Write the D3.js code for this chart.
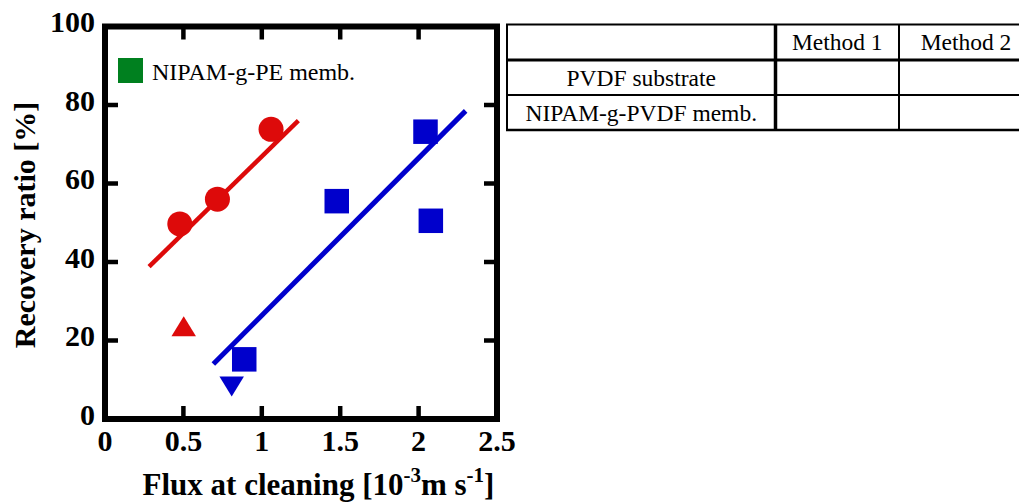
<!DOCTYPE html>
<html>
<head>
<meta charset="utf-8">
<script src="https://cdn.jsdelivr.net/npm/d3@7"></script>
<style>
  html, body { margin: 0; padding: 0; background: #fff; }
  svg { display: block; }
</style>
</head>
<body>
<svg id="chart" width="1019" height="504"></svg>
<script>
// ---- data ----
const xTicks = [0, 0.5, 1, 1.5, 2, 2.5];
const xTickLabels = ["0", "0.5", "1", "1.5", "2", "2.5"];
const yTicks = [0, 20, 40, 60, 80, 100];
const yTickLabels = ["0", "20", "40", "60", "80", "100"];

const redCircles = [[0.477, 49.7], [0.717, 56.0], [1.059, 73.8]];
const redTriangles = [[0.502, 23.6]];
const blueSquares = [[0.888, 15.2], [1.478, 55.5], [2.044, 73.2], [2.078, 50.5]];
const blueDownTriangles = [[0.808, 8.3]];
const redFit = [[0.281, 38.8], [1.233, 76.0]];
const blueFit = [[0.691, 14.0], [2.30, 78.5]];

const legendLabel = "NIPAM-g-PE memb.";
const tableHeader = ["", "Method 1", "Method 2"];
const tableRows = [["PVDF substrate", "", ""], ["NIPAM-g-PVDF memb.", "", ""]];

// ---- layout ----
const FONT = "Liberation Serif";
const svg = d3.select("#chart").attr("font-family", FONT);
const x = d3.scaleLinear().domain([0, 2.5]).range([105, 497]);
const y = d3.scaleLinear().domain([0, 100]).range([419, 26.5]);
const RED = "#dd0a0a", BLUE = "#0000cc", GREEN = "#00801f";

// frame
svg.append("rect")
  .attr("x", x(0)).attr("y", y(100))
  .attr("width", x(2.5) - x(0)).attr("height", y(0) - y(100))
  .attr("fill", "none").attr("stroke", "#000").attr("stroke-width", 6);

// ticks (inside, all four sides)
const tl = 13;
const tickG = svg.append("g").attr("stroke", "#000").attr("stroke-width", 4.5);
xTicks.slice(1, -1).forEach(v => {
  tickG.append("line").attr("x1", x(v)).attr("x2", x(v)).attr("y1", y(0)).attr("y2", y(0) - tl);
  tickG.append("line").attr("x1", x(v)).attr("x2", x(v)).attr("y1", y(100)).attr("y2", y(100) + tl);
});
yTicks.slice(1, -1).forEach(v => {
  tickG.append("line").attr("x1", x(0)).attr("x2", x(0) + tl).attr("y1", y(v)).attr("y2", y(v));
  tickG.append("line").attr("x1", x(2.5)).attr("x2", x(2.5) - tl).attr("y1", y(v)).attr("y2", y(v));
});

// tick labels
svg.append("g").selectAll("text").data(xTicks).join("text")
  .attr("font-family", FONT)
  .attr("x", d => x(d)).attr("y", y(0) + 32)
  .attr("text-anchor", "middle").attr("font-size", 30).attr("font-weight", "bold")
  .text((d, i) => xTickLabels[i]);
svg.append("g").selectAll("text").data(yTicks).join("text")
  .attr("font-family", FONT)
  .attr("x", 95).attr("y", d => y(d) + 5.5)
  .attr("text-anchor", "end").attr("font-size", 30).attr("font-weight", "bold")
  .text((d, i) => yTickLabels[i]);

// axis titles
svg.append("text")
  .attr("font-family", FONT)
  .attr("transform", "translate(35,225) rotate(-90)")
  .attr("text-anchor", "middle").attr("font-size", 30).attr("font-weight", "bold")
  .text("Recovery ratio [%]");
const xt = svg.append("text")
  .attr("font-family", FONT)
  .attr("x", 318.5).attr("y", 495)
  .attr("text-anchor", "middle").attr("font-size", 31).attr("font-weight", "bold");
xt.append("tspan").text("Flux at cleaning [10");
xt.append("tspan").attr("dy", -13).attr("font-size", 21).text("-3");
xt.append("tspan").attr("dy", 13).text("m s");
xt.append("tspan").attr("dy", -13).attr("font-size", 21).text("-1");
xt.append("tspan").attr("dy", 13).text("]");

// fit lines
const line = d3.line().x(d => x(d[0])).y(d => y(d[1]));
svg.append("path").datum(redFit).attr("d", line)
  .attr("stroke", RED).attr("stroke-width", 4.5).attr("fill", "none");
svg.append("path").datum(blueFit).attr("d", line)
  .attr("stroke", BLUE).attr("stroke-width", 5).attr("fill", "none");

// markers
svg.append("g").selectAll("circle").data(redCircles).join("circle")
  .attr("cx", d => x(d[0])).attr("cy", d => y(d[1])).attr("r", 12.5).attr("fill", RED);
const sq = 24.5;
svg.append("g").selectAll("rect").data(blueSquares).join("rect")
  .attr("x", d => x(d[0]) - sq / 2).attr("y", d => y(d[1]) - sq / 2)
  .attr("width", sq).attr("height", sq).attr("fill", BLUE);
const triW = 24.5, triH = 20;
svg.append("g").selectAll("path").data(redTriangles).join("path")
  .attr("transform", d => `translate(${x(d[0])},${y(d[1])})`)
  .attr("d", `M0,${-triH / 2}L${triW / 2},${triH / 2}L${-triW / 2},${triH / 2}Z`)
  .attr("fill", RED);
svg.append("g").selectAll("path").data(blueDownTriangles).join("path")
  .attr("transform", d => `translate(${x(d[0])},${y(d[1])})`)
  .attr("d", `M0,${triH / 2}L${triW / 2},${-triH / 2}L${-triW / 2},${-triH / 2}Z`)
  .attr("fill", BLUE);

// legend
svg.append("rect").attr("x", 118).attr("y", 58).attr("width", 25).attr("height", 25).attr("fill", GREEN);
svg.append("text").attr("font-family", FONT).attr("x", 152).attr("y", 80).attr("font-size", 24).text(legendLabel);

// table
const colX = [507, 775.5, 899, 1033];
const rowY = [24.5, 60, 95, 130];
const tg = svg.append("g");
const allRows = [tableHeader].concat(tableRows);
allRows.forEach((row, ri) => {
  row.forEach((cell, ci) => {
    if (cell) {
      tg.append("text")
        .attr("font-family", FONT)
        .attr("x", (colX[ci] + colX[ci + 1]) / 2)
        .attr("y", (rowY[ri] + rowY[ri + 1]) / 2 + 8)
        .attr("text-anchor", "middle").attr("font-size", 23.5)
        .text(cell);
    }
  });
});
const hW = [2, 3, 2, 2.5];
rowY.forEach((yy, i) => {
  tg.append("line").attr("x1", colX[0] - 1).attr("x2", colX[3] + 1)
    .attr("y1", yy).attr("y2", yy).attr("stroke", "#000").attr("stroke-width", hW[i]);
});
const vW = [2, 3.5, 2, 2];
colX.forEach((xx, i) => {
  tg.append("line").attr("x1", xx).attr("x2", xx)
    .attr("y1", rowY[0]).attr("y2", rowY[3]).attr("stroke", "#000").attr("stroke-width", vW[i]);
});
</script>
</body>
</html>
